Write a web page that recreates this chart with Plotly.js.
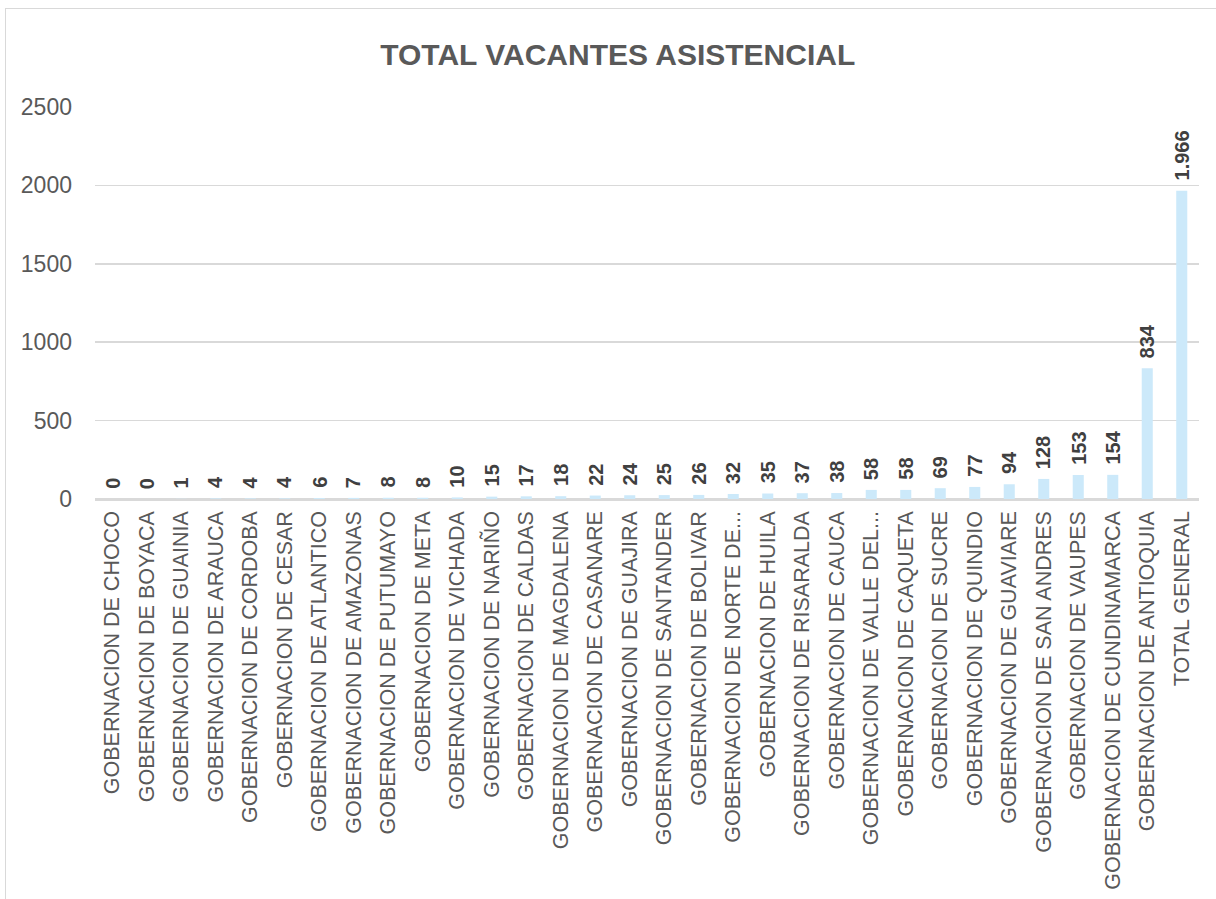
<!DOCTYPE html>
<html>
<head>
<meta charset="utf-8">
<script src="https://cdn.plot.ly/plotly-3.0.1.min.js"></script>
<style>
html,body{margin:0;padding:0;background:#fff;}
#frame{position:absolute;left:5px;top:8px;width:1230px;height:920px;border:1.5px solid #d9d9d9;box-sizing:border-box;pointer-events:none;z-index:2;}
#chart{position:absolute;left:0;top:0;width:1216px;height:899px;}
</style>
</head>
<body>
<div id="frame"></div>
<div id="chart"></div>
<script>
const categories = [
  "GOBERNACION DE CHOCO","GOBERNACION DE BOYACA","GOBERNACION DE GUAINIA","GOBERNACION DE ARAUCA",
  "GOBERNACION DE CORDOBA","GOBERNACION DE CESAR","GOBERNACION DE ATLANTICO","GOBERNACION DE AMAZONAS",
  "GOBERNACION DE PUTUMAYO","GOBERNACION DE META","GOBERNACION DE VICHADA","GOBERNACION DE NARIÑO",
  "GOBERNACION DE CALDAS","GOBERNACION DE MAGDALENA","GOBERNACION DE CASANARE","GOBERNACION DE GUAJIRA",
  "GOBERNACION DE SANTANDER","GOBERNACION DE BOLIVAR","GOBERNACION DE NORTE DE...","GOBERNACION DE HUILA",
  "GOBERNACION DE RISARALDA","GOBERNACION DE CAUCA","GOBERNACION DE VALLE DEL...","GOBERNACION DE CAQUETA",
  "GOBERNACION DE SUCRE","GOBERNACION DE QUINDIO","GOBERNACION DE GUAVIARE","GOBERNACION DE SAN ANDRES",
  "GOBERNACION DE VAUPES","GOBERNACION DE CUNDINAMARCA","GOBERNACION DE ANTIOQUIA","TOTAL GENERAL"
];
const values = [0,0,1,4,4,4,6,7,8,8,10,15,17,18,22,24,25,26,32,35,37,38,58,58,69,77,94,128,153,154,834,1966];
const yTicks = [0,500,1000,1500,2000,2500];
const titleText = "TOTAL VACANTES ASISTENCIAL";

function fmt(v){ return String(v).replace(/\B(?=(\d{3})+(?!\d))/g, "."); }

const trace = {
  type: "bar",
  x: categories,
  y: values,
  marker: {color: "#cce9fa"},
  hoverinfo: "none"
};

const labels = categories.map((c, i) => ({
  x: c, y: values[i], xref: "x", yref: "y",
  text: "<b>" + fmt(values[i]) + "</b>",
  textangle: -90,
  showarrow: false,
  xanchor: "center", yanchor: "bottom",
  yshift: 9,
  borderpad: 0,
  font: {family: "Liberation Sans, Arial, sans-serif", size: 20, color: "#404040"}
}));

const layout = {
  width: 1216, height: 899,
  margin: {l: 95, r: 17, t: 107, b: 400},
  paper_bgcolor: "rgba(0,0,0,0)",
  plot_bgcolor: "#ffffff",
  bargap: 0.68,
  showlegend: false,
  annotations: labels,
  title: {
    text: "<b>" + titleText + "</b>",
    font: {family: "Liberation Sans, Arial, sans-serif", size: 30, color: "#595959"},
    x: 0.508, xanchor: "center", y: 0.939, yanchor: "middle"
  },
  xaxis: {
    type: "category",
    tickangle: -90,
    tickfont: {family: "Liberation Sans, Arial, sans-serif", size: 21.5, color: "#595959"},
    showgrid: false,
    showline: true, linecolor: "#d9d9d9", linewidth: 1.5,
    ticks: "", ticklabelstandoff: 2,
    automargin: false, fixedrange: true
  },
  yaxis: {
    range: [0, 2500],
    tickvals: yTicks,
    ticktext: yTicks.map(String),
    tickfont: {family: "Liberation Sans, Arial, sans-serif", size: 23, color: "#595959"},
    showgrid: true, gridcolor: "#d9d9d9", gridwidth: 1.5,
    zeroline: true, zerolinecolor: "#d9d9d9", zerolinewidth: 1.5,
    showline: false, ticks: "", ticklabelstandoff: 22,
    automargin: false, fixedrange: true
  }
};

Plotly.newPlot("chart", [trace], layout, {displayModeBar: false, staticPlot: true});
</script>
</body>
</html>
